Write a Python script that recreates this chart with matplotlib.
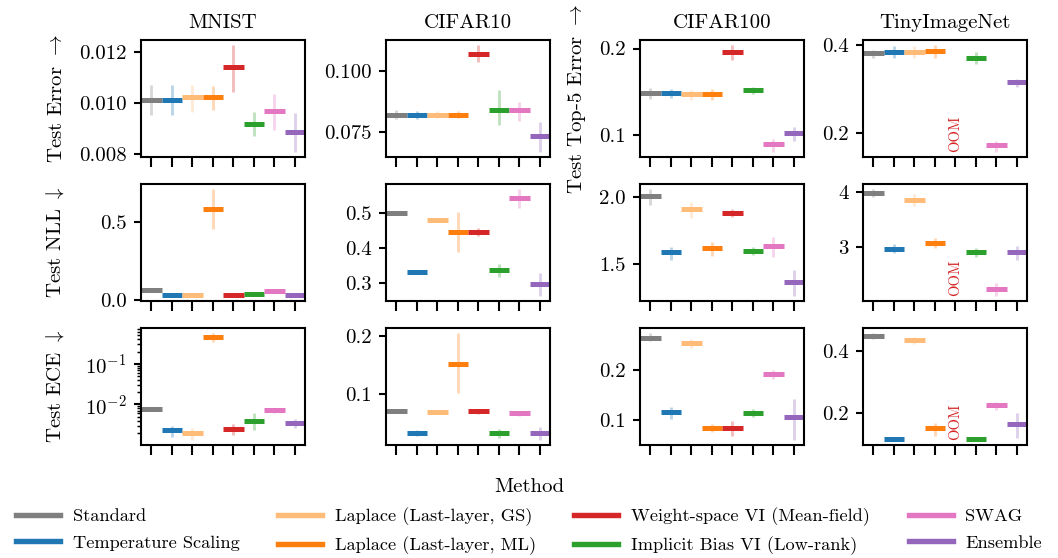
import numpy as np
import matplotlib
matplotlib.use("Agg")
import matplotlib.pyplot as plt
from matplotlib.lines import Line2D
import matplotlib.transforms as mtransforms

plt.rcParams['font.family'] = ['cmr10', 'DejaVu Serif']
plt.rcParams['mathtext.fontset'] = 'cm'
plt.rcParams['axes.formatter.use_mathtext'] = True
plt.rcParams['font.size'] = 10
plt.rcParams['axes.linewidth'] = 1.0

nan = np.nan

methods = ["Standard", "Temperature Scaling", "Laplace (Last-layer, GS)",
           "Laplace (Last-layer, ML)", "Weight-space VI (Mean-field)",
           "Implicit Bias VI (Low-rank)", "SWAG", "Ensemble"]
colors = ["#7f7f7f", "#1f77b4", "#ffbb78", "#ff7f0e",
          "#d62728", "#2ca02c", "#e377c2", "#9467bd"]

datasets = ["MNIST", "CIFAR10", "CIFAR100", "TinyImageNet"]

# ligne 1 : erreur (top-5 pour CIFAR100 / TinyImageNet)
mnist_err = [0.01012, 0.01012, 0.01021, 0.01023, 0.01141, 0.00918, 0.00968, 0.00887]
mnist_err_lo = [0.00953, 0.00952, 0.00965, 0.00971, 0.01044, 0.0087, 0.00893, 0.00808]
mnist_err_hi = [0.01069, 0.01069, 0.01069, 0.01065, 0.01226, 0.00962, 0.01035, 0.0096]

cifar10_err = [0.0819, 0.0819, 0.0819, 0.0819, 0.107, 0.0838, 0.0839, 0.073]
cifar10_err_lo = [0.0803, 0.0803, 0.0805, 0.0805, 0.1036, 0.0779, 0.0794, 0.0667]
cifar10_err_hi = [0.0838, 0.0836, 0.0833, 0.0834, 0.1106, 0.0921, 0.0871, 0.0790]

cifar100_err = [0.1482, 0.1482, 0.1467, 0.1467, 0.1956, 0.1519, 0.0889, 0.1019]
cifar100_err_lo = [0.1419, 0.1430, 0.1407, 0.1407, 0.187, 0.147, 0.0804, 0.0933]
cifar100_err_hi = [0.1537, 0.1530, 0.1519, 0.1526, 0.2037, 0.1555, 0.0952, 0.1093]

tiny_err = [0.3815, 0.3853, 0.3853, 0.386, nan, 0.3706, 0.1714, 0.3155]
tiny_err_lo = [0.372, 0.3706, 0.3706, 0.3706, nan, 0.358, 0.1566, 0.3045]
tiny_err_hi = [0.389, 0.3985, 0.3985, 0.400, nan, 0.3838, 0.1816, 0.323]

# ligne 2 : NLL
mnist_nll = [0.062, 0.031, 0.031, 0.584, 0.034, 0.040, 0.059, 0.031]
mnist_nll_lo = [0.058, 0.028, 0.028, 0.453, 0.031, 0.037, 0.056, 0.028]
mnist_nll_hi = [0.066, 0.034, 0.034, 0.709, 0.037, 0.043, 0.062, 0.034]

cifar10_nll = [0.500, 0.332, 0.480, 0.444, 0.4455, 0.338, 0.541, 0.297]
cifar10_nll_lo = [0.495, 0.328, 0.477, 0.388, 0.434, 0.318, 0.512, 0.264]
cifar10_nll_hi = [0.505, 0.336, 0.483, 0.503, 0.457, 0.353, 0.566, 0.329]

cifar100_nll = [2.005, 1.584, 1.905, 1.614, 1.88, 1.598, 1.63, 1.362]
cifar100_nll_lo = [1.936, 1.531, 1.84, 1.555, 1.85, 1.564, 1.548, 1.262]
cifar100_nll_hi = [2.055, 1.626, 1.96, 1.66, 1.905, 1.626, 1.698, 1.452]

tiny_nll = [3.98, 2.965, 3.853, 3.06, nan, 2.894, 2.224, 2.906]
tiny_nll_lo = [3.91, 2.89, 3.75, 2.98, nan, 2.81, 2.10, 2.75]
tiny_nll_hi = [4.05, 3.05, 3.97, 3.15, nan, 2.97, 2.337, 3.01]

# ligne 3 : ECE
mnist_ece = [0.0076, 0.0023, 0.00195, 0.45, 0.00252, 0.00383, 0.0072, 0.0035]
mnist_ece_lo = [0.0070, 0.0016, 0.00136, 0.337, 0.00179, 0.00234, 0.0060, 0.00267]
mnist_ece_hi = [0.0082, 0.00292, 0.00267, 0.56, 0.0033, 0.00625, 0.0083, 0.0044]

cifar10_ece = [0.0716, 0.0344, 0.070, 0.152, 0.0716, 0.0333, 0.0672, 0.0344]
cifar10_ece_lo = [0.0700, 0.029, 0.0688, 0.1028, 0.067, 0.0246, 0.0628, 0.0224]
cifar10_ece_hi = [0.0732, 0.0388, 0.0712, 0.204, 0.0754, 0.041, 0.0716, 0.0437]

cifar100_ece = [0.2637, 0.1153, 0.253, 0.084, 0.084, 0.114, 0.1904, 0.1057]
cifar100_ece_lo = [0.256, 0.1012, 0.2426, 0.077, 0.068, 0.1064, 0.182, 0.061]
cifar100_ece_hi = [0.272, 0.1268, 0.2617, 0.0916, 0.098, 0.1217, 0.200, 0.1426]

tiny_ece = [0.4474, 0.1158, 0.4348, 0.150, nan, 0.1158, 0.224, 0.163]
tiny_ece_lo = [0.437, 0.113, 0.421, 0.126, nan, 0.113, 0.21, 0.119]
tiny_ece_hi = [0.456, 0.118, 0.445, 0.168, nan, 0.118, 0.2335, 0.198]

panels = [
    [(mnist_err, mnist_err_lo, mnist_err_hi), (cifar10_err, cifar10_err_lo, cifar10_err_hi),
     (cifar100_err, cifar100_err_lo, cifar100_err_hi), (tiny_err, tiny_err_lo, tiny_err_hi)],
    [(mnist_nll, mnist_nll_lo, mnist_nll_hi), (cifar10_nll, cifar10_nll_lo, cifar10_nll_hi),
     (cifar100_nll, cifar100_nll_lo, cifar100_nll_hi), (tiny_nll, tiny_nll_lo, tiny_nll_hi)],
    [(mnist_ece, mnist_ece_lo, mnist_ece_hi), (cifar10_ece, cifar10_ece_lo, cifar10_ece_hi),
     (cifar100_ece, cifar100_ece_lo, cifar100_ece_hi), (tiny_ece, tiny_ece_lo, tiny_ece_hi)],
]

yticks = [
    [[0.008, 0.010, 0.012], [0.075, 0.100], [0.1, 0.2], [0.2, 0.4]],
    [[0.0, 0.5], [0.3, 0.4, 0.5], [1.5, 2.0], [3, 4]],
    [None, [0.1, 0.2], [0.1, 0.2], [0.2, 0.4]],
]
ytickfmt = [
    ["%.3f", "%.3f", "%.1f", "%.1f"],
    ["%.1f", "%.1f", "%.1f", "%d"],
    [None, "%.1f", "%.1f", "%.1f"],
]

W, H = 1058, 558
fig = plt.figure(figsize=(W / 150, H / 150), dpi=150)

col_left = [141, 386, 640, 863]
row_top = [40, 184, 328]
aw, ah = 164, 117

axes = [[None] * 4 for _ in range(3)]
for r in range(3):
    for c in range(4):
        ax = fig.add_axes([col_left[c] / W, 1 - (row_top[r] + ah) / H, aw / W, ah / H])
        axes[r][c] = ax
        mean, lo, hi = panels[r][c]
        for i in range(len(methods)):
            if np.isnan(mean[i]):
                continue
            ax.vlines(i, lo[i], hi[i], color=colors[i], alpha=0.3, lw=1.4)
            ax.hlines(mean[i], i - 0.5, i + 0.5, color=colors[i], lw=2.4)
        if r == 2 and c == 0:
            ax.set_yscale('log')
            ax.autoscale_view()
        ax.set_xlim(-0.5, 7.5)
        ax.set_xticks(range(len(methods)))
        ax.set_xticklabels([])
        ax.tick_params(axis='x', direction='out', length=5, width=1.0)
        ax.tick_params(axis='y', direction='out', length=3.5, width=1.0)
        ax.tick_params(axis='y', which='minor', length=2, width=0.7)
        if yticks[r][c] is not None:
            ax.set_yticks(yticks[r][c])
            ax.set_yticklabels([ytickfmt[r][c] % v for v in yticks[r][c]])
        if c == 3:
            trans = mtransforms.blended_transform_factory(ax.transData, ax.transAxes)
            ax.text(4, 0.2, "OOM", rotation=90, color="#d62728", fontsize=7,
                    ha='center', va='center', transform=trans)
        if r == 0:
            ax.set_title(datasets[c], fontsize=10)

axes[0][0].set_ylabel(r"Test Error $\rightarrow$")
axes[1][0].set_ylabel(r"Test NLL $\downarrow$")
axes[2][0].set_ylabel(r"Test ECE $\downarrow$")
axes[0][2].set_ylabel(r"Test Top-5 Error $\rightarrow$")
for r in range(3):
    axes[r][0].yaxis.set_label_coords(-0.46, 0.5)
axes[0][2].yaxis.set_label_coords(-0.32, 0.5)

handles = [Line2D([], [], color=colors[i], lw=2.6) for i in range(len(methods))]
fig.legend(handles, methods, loc='lower center', bbox_to_anchor=(0.5, -0.025), ncol=4,
           frameon=False, title="Method", fontsize=8.8, title_fontsize=10,
           handlelength=2.4, handletextpad=0.7, columnspacing=2.1, labelspacing=0.6)

fig.savefig("out.png", dpi=150)
